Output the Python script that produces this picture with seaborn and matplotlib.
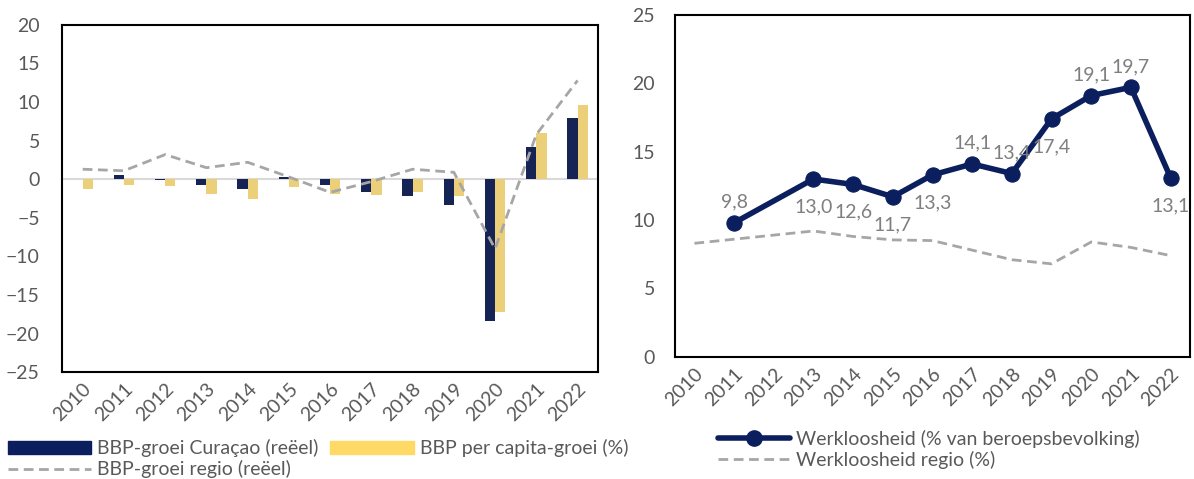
import numpy as np
import pandas as pd
import matplotlib
matplotlib.use('Agg')
import matplotlib.pyplot as plt
import seaborn as sns
from matplotlib.lines import Line2D
from matplotlib.patches import Patch

# Gegevens
jaren = [str(j) for j in range(2010, 2023)]
bbp_curacao = [0.0, 0.6, -0.1, -0.8, -1.2, 0.3, -0.8, -1.7, -2.2, -3.4, -18.4, 4.2, 7.9]
bbp_per_capita = [-1.2, -0.8, -0.9, -1.9, -2.5, -1.0, -1.9, -2.0, -1.7, -2.2, -17.2, 6.0, 9.6]
bbp_regio = [1.3, 1.1, 3.2, 1.5, 2.2, 0.3, -1.7, -0.3, 1.3, 0.9, -9.0, 5.8, 12.8]

werkloosheid = [np.nan, 9.8, np.nan, 13.0, 12.6, 11.7, 13.3, 14.1, 13.4, 17.4, 19.1, 19.7, 13.1]
werkloosheid_regio = [8.3, 8.6, 8.9, 9.2, 8.8, 8.55, 8.5, 7.8, 7.1, 6.8, 8.4, 8.0, 7.4]
label_pos = ['', 'above', '', 'below', 'below', 'below', 'below', 'above', 'above', 'below', 'above', 'above', 'below']

navy = '#0B1F5E'
geel = '#FFD966'
grijs = '#A6A6A6'
tekst = '#595959'

sns.set_style('white')
plt.rcParams['font.family'] = ['Lato', 'DejaVu Sans']

fig = plt.figure(figsize=(11.94, 4.79), dpi=100)
ax1 = fig.add_axes([0.052, 0.223, 0.449, 0.725])
ax2 = fig.add_axes([0.565, 0.255, 0.432, 0.714])

# Linker grafiek: BBP-groei
bars = pd.DataFrame({
    'jaar': jaren * 2,
    'waarde': bbp_curacao + bbp_per_capita,
    'reeks': ['BBP-groei Curaçao (reëel)'] * len(jaren) + ['BBP per capita-groei (%)'] * len(jaren),
})
sns.barplot(data=bars, x='jaar', y='waarde', hue='reeks', palette=[navy, geel],
            width=0.5, ax=ax1, legend=False, edgecolor='none')
ax1.axhline(0, color='#D9D9D9', lw=1.5, zorder=0.5)
sns.lineplot(x=jaren, y=bbp_regio, ax=ax1, color=grijs, lw=2, linestyle=(0, (3.5, 2)),
             sort=False)
ax1.set_ylim(-25, 20)
ax1.set_yticks(range(-25, 21, 5))
ax1.set_xlim(-0.5, len(jaren) - 0.5)
ax1.set_xlabel('')
ax1.set_ylabel('')

# Rechter grafiek: werkloosheid
sns.lineplot(x=jaren, y=werkloosheid_regio, ax=ax2, color=grijs, lw=2,
             linestyle=(0, (3.5, 2)), sort=False)
wl = pd.DataFrame({'jaar': jaren, 'w': werkloosheid}).dropna()
sns.lineplot(x=wl['jaar'], y=wl['w'], ax=ax2, color=navy, lw=4, marker='o',
             markersize=11, markeredgecolor=navy, sort=False)
ax2.set_ylim(0, 25)
ax2.set_yticks(range(0, 26, 5))
ax2.set_xticks(range(len(jaren)))
ax2.set_xticklabels(jaren)
ax2.set_xlim(-0.5, len(jaren) - 0.5)
ax2.set_xlabel('')
ax2.set_ylabel('')

for i, (w, p) in enumerate(zip(werkloosheid, label_pos)):
    if np.isnan(w):
        continue
    dy = 15 if p == 'above' else -20
    ax2.annotate(f'{w:.1f}'.replace('.', ','), (i, w), xytext=(0, dy),
                 textcoords='offset points', ha='center', va='center',
                 fontsize=14, color='#7F7F7F')

for ax in (ax1, ax2):
    for s in ax.spines.values():
        s.set_visible(True)
        s.set_color('black')
        s.set_linewidth(1.5)
    ax.tick_params(axis='both', labelsize=14, colors=tekst, length=0)
    for lab in ax.get_xticklabels():
        lab.set_rotation(45)
        lab.set_ha('right')
        lab.set_rotation_mode('anchor')
ax1.tick_params(axis='y', pad=16)
ax2.tick_params(axis='y', pad=14)
ax1.tick_params(axis='x', pad=6)
ax2.tick_params(axis='x', pad=6)

# Legenda's
h1 = [Patch(color=navy), Line2D([], [], color=grijs, lw=2, linestyle=(0, (3.5, 2))), Patch(color=geel)]
l1 = ['BBP-groei Curaçao (reëel)', 'BBP-groei regio (reëel)', 'BBP per capita-groei (%)']
fig.legend(h1, l1, loc='lower left', bbox_to_anchor=(0.0, -0.015), ncol=2, frameon=False,
           fontsize=14, labelcolor=tekst, handlelength=4.3, handletextpad=0.3,
           columnspacing=0.6, labelspacing=0.15, borderaxespad=0)

h2 = [Line2D([], [], color=navy, lw=4, marker='o', markersize=11),
      Line2D([], [], color=grijs, lw=2, linestyle=(0, (3.5, 2)))]
l2 = ['Werkloosheid (% van beroepsbevolking)', 'Werkloosheid regio (%)']
fig.legend(h2, l2, loc='lower left', bbox_to_anchor=(0.595, 0.005), ncol=1, frameon=False,
           fontsize=14, labelcolor=tekst, handlelength=3.7, handletextpad=0.3,
           labelspacing=0.15, borderaxespad=0)

fig.savefig('out.png', dpi=100)
